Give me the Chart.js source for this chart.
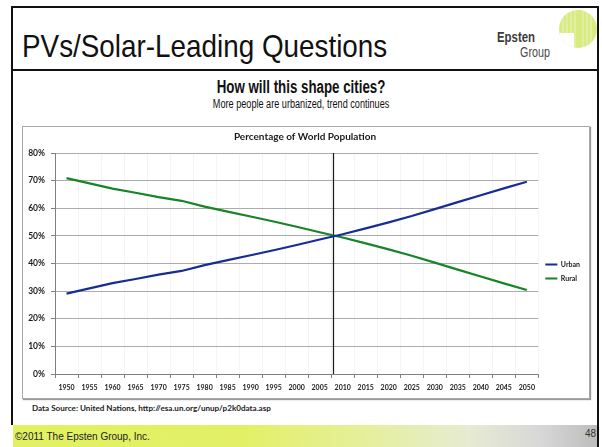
<!DOCTYPE html>
<html>
<head>
<meta charset="utf-8">
<script src="https://cdn.jsdelivr.net/npm/chart.js@4.4.0/dist/chart.umd.min.js"></script>
<style>
  html, body { margin: 0; padding: 0; background: #fff; }
  body { position: relative; width: 602px; height: 447px; overflow: hidden; font-family: "Liberation Sans", Arial, sans-serif; }
  .abs { position: absolute; line-height: 1; white-space: nowrap; }
  #frame { left: 11px; top: 6px; width: 584px; height: 417px; border: 2px solid #111; border-bottom: none; }
  #rule { left: 11px; top: 69px; width: 588px; height: 2px; background: #111; }
  #footer { left: 13px; top: 425px; width: 584px; height: 22px;
    background: linear-gradient(to right, #e1f160 0%, #e3f067 40%, #e5efa0 62%, #e6ebd2 78%, #d8d8d8 90%, #bdbdbd 100%); }
  #footer-edge { left: 597px; top: 425px; width: 2px; height: 22px; background: #111; }
  #title { left: 22px; top: 30px; font-size: 32px; color: #111; transform: scaleX(0.87); transform-origin: 0 0; }
  #q { left: 0; width: 602px; top: 78px; text-align: center; font-size: 18px; font-weight: bold; color: #111; }
  #q span { display: inline-block; transform: scaleX(0.74); }
  #sub { left: 0; width: 602px; top: 97.5px; text-align: center; font-size: 12px; color: #111; }
  #sub span { display: inline-block; transform: scaleX(0.76); }
  #box { left: 22px; top: 126px; width: 566px; height: 271px; border: 1px solid #a8a8a8; box-shadow: 1px 1px 1px #9a9a9a; }
  #src { left: 32px; top: 403.5px; font-family: Lato, sans-serif; font-weight: bold; font-size: 8.1px; color: #222; }
  #copy { left: 15px; top: 431.5px; font-size: 10px; color: #222; }
  #page { left: 582px; top: 428.5px; font-size: 10px; color: #333; width: 14px; text-align: right; }
  #logo { left: 488px; top: 8px; }
  #chart { position: absolute; left: 0; top: 0; }
</style>
</head>
<body>
<div id="frame" class="abs"></div>
<div id="rule" class="abs"></div>
<div id="footer" class="abs"></div>
<div id="footer-edge" class="abs"></div>
<div id="title" class="abs">PVs/Solar-Leading Questions</div>
<svg id="logo" class="abs" width="110" height="60" viewBox="0 0 110 60">
  <defs>
    <clipPath id="ball"><circle cx="90" cy="21" r="19"/></clipPath>
  </defs>
  <circle cx="90" cy="21" r="19" fill="#d8eb82"/>
  <g clip-path="url(#ball)" stroke="#eef6c8" stroke-width="0.8">
    <line x1="75" y1="0" x2="75" y2="42"/><line x1="79" y1="0" x2="79" y2="42"/>
    <line x1="83" y1="0" x2="83" y2="42"/><line x1="87" y1="0" x2="87" y2="42"/>
    <line x1="95" y1="0" x2="95" y2="42"/><line x1="99" y1="0" x2="99" y2="42"/>
    <line x1="103" y1="0" x2="103" y2="42"/>
    <path d="M70 25 L86 25 L86 42 L70 42 Z" fill="#ffffff" stroke="none"/>
  </g>
  <text transform="translate(9,34) scale(0.76,1)" font-family="Liberation Sans, Arial, sans-serif" font-weight="bold" font-size="15" fill="#3c3c3c">Epsten</text>
  <text transform="translate(32,49) scale(0.77,1)" font-family="Liberation Sans, Arial, sans-serif" font-size="14" fill="#4a4a4a">Group</text>
</svg>
<div id="q" class="abs"><span>How will this shape cities?</span></div>
<div id="sub" class="abs"><span>More people are urbanized, trend continues</span></div>
<div id="box" class="abs"></div>
<div id="src" class="abs">Data Source: United Nations, http://esa.un.org/unup/p2k0data.asp</div>
<div id="copy" class="abs">©2011 The Epsten Group, Inc.</div>
<div id="page" class="abs">48</div>
<canvas id="chart" width="602" height="447"></canvas>

<script>
// Share of world population living in urban and rural areas, 1950-2050 (%)
const years = ['1950', '1955', '1960', '1965', '1970', '1975', '1980', '1985', '1990', '1995', '2000',
               '2005', '2010', '2015', '2020', '2025', '2030', '2035', '2040', '2045', '2050'];
const urban = [29.1, 31.0, 32.9, 34.4, 36.0, 37.3, 39.4, 41.2, 43.0, 44.8, 46.7,
               48.7, 50.6, 52.7, 54.9, 57.2, 59.7, 62.2, 64.7, 67.2, 69.6];
const rural = [70.9, 69.0, 67.1, 65.6, 64.0, 62.7, 60.6, 58.8, 57.0, 55.2, 53.3,
               51.3, 49.4, 47.3, 45.1, 42.8, 40.3, 37.8, 35.3, 32.8, 30.4];
const yTicks = [0, 10, 20, 30, 40, 50, 60, 70, 80];
const crossoverYear = 2008;   // year the urban share passes 50%

const xFont = { family: 'Lato, sans-serif', weight: 'bold', size: 7 };
const yFont = { family: 'Lato, sans-serif', weight: 'bold', size: 8.5 };

// Vertical marker at the crossover year, placed through the category scale
const crossoverLine = {
  id: 'crossoverLine',
  beforeDatasetsDraw(chart) {
    const x = chart.scales.x;
    const area = chart.chartArea;
    const idx = (crossoverYear - Number(years[0])) / 5;
    const px = Math.round(x.getPixelForValue(idx)) + 0.5;
    const ctx = chart.ctx;
    ctx.save();
    ctx.strokeStyle = '#1a1a1a';
    ctx.lineWidth = 1.2;
    ctx.beginPath();
    ctx.moveTo(px, area.top);
    ctx.lineTo(px, area.bottom);
    ctx.stroke();
    ctx.restore();
  }
};

new Chart(document.getElementById('chart'), {
  type: 'line',
  data: {
    labels: years,
    datasets: [
      { label: 'Urban', data: urban, borderColor: '#172c94', backgroundColor: '#172c94',
        borderWidth: 2.2, pointRadius: 0, tension: 0 },
      { label: 'Rural', data: rural, borderColor: '#178428', backgroundColor: '#178428',
        borderWidth: 2.2, pointRadius: 0, tension: 0 }
    ]
  },
  options: {
    responsive: false,
    animation: false,
    devicePixelRatio: 1,
    layout: { padding: { left: 20, right: 12, top: 131, bottom: 56 } },
    plugins: {
      title: {
        display: true,
        text: 'Percentage of World Population',
        font: { family: 'Lato, sans-serif', weight: 'bold', size: 10 },
        color: '#1a1a1a',
        padding: { top: 0, bottom: 10 }
      },
      legend: {
        position: 'right',
        align: 'center',
        maxWidth: 52,
        title: { display: true, text: '', font: { size: 10, lineHeight: 1 }, padding: { top: 0, bottom: 11 } },
        labels: {
          usePointStyle: true,
          pointStyle: 'line',
          pointStyleWidth: 12,
          boxHeight: 7,
          font: xFont,
          color: '#1a1a1a',
          padding: 7
        }
      },
      tooltip: { enabled: false }
    },
    scales: {
      x: {
        type: 'category',
        offset: true,
        grid: { offset: true, color: 'rgba(0,0,0,0.045)', tickColor: '#808080', tickLength: 4 },
        border: { color: '#808080', width: 1 },
        ticks: { font: xFont, color: '#1a1a1a', padding: 6, maxRotation: 0, autoSkip: false },
        afterFit(s) { s.height = 17; }
      },
      y: {
        min: yTicks[0],
        max: yTicks[yTicks.length - 1],
        afterBuildTicks(s) { s.ticks = yTicks.map(v => ({ value: v })); },
        grid: { color: '#acacac', tickColor: '#808080', tickLength: 4 },
        border: { color: '#808080', width: 1 },
        ticks: { font: yFont, color: '#1a1a1a', padding: 6, callback: v => v + '%' },
        afterFit(s) { s.width = 35; }
      }
    }
  },
  plugins: [crossoverLine]
});
</script>
</body>
</html>
